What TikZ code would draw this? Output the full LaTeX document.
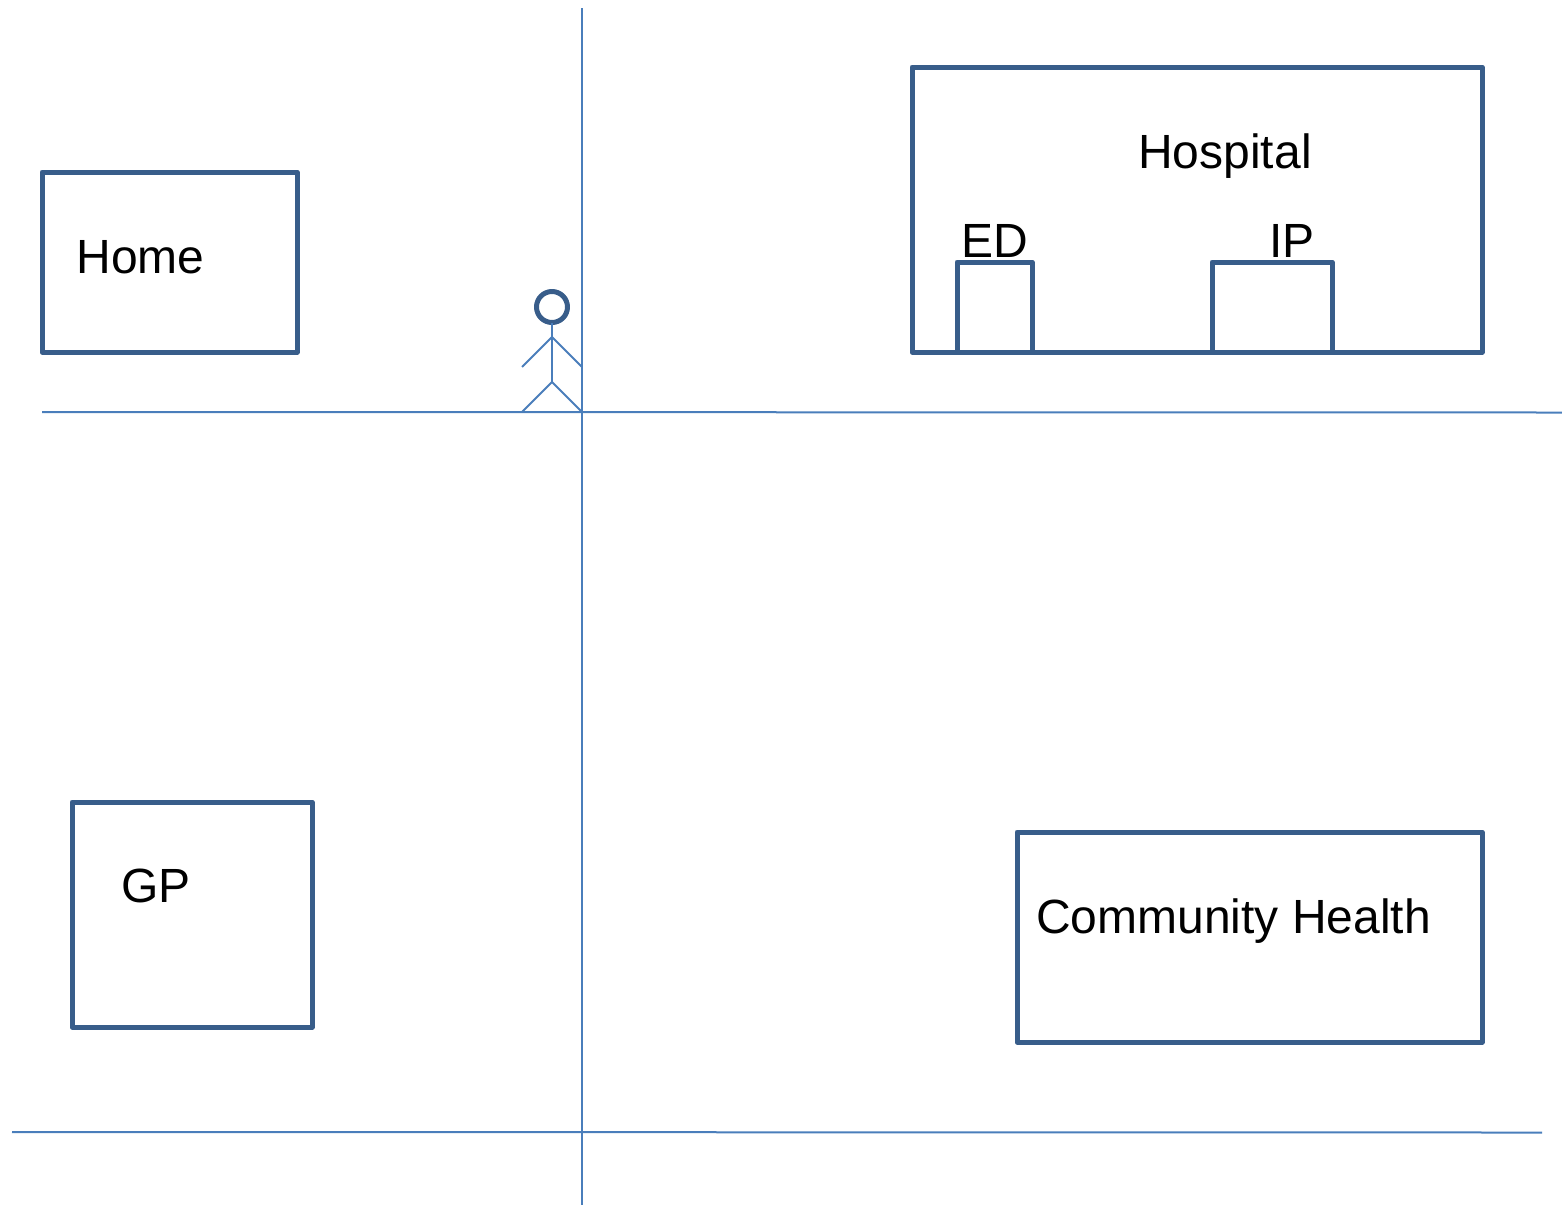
\documentclass[tikz,border=0pt]{standalone}
\usepackage{fontspec}
\setmainfont{Liberation Sans}
\usetikzlibrary{positioning, calc}
\definecolor{boxblue}{HTML}{385D8A}
\definecolor{lineblue}{HTML}{4A7EBB}

\begin{document}
\begin{tikzpicture}[x=1pt, y=-1pt,
        place/.style={draw=boxblue, line width=5pt, line join=round, inner sep=0pt, outer sep=0pt},
        label/.style={anchor=base, inner sep=0pt, font=\fontsize{48}{48}\selectfont},
        thin line/.style={draw=lineblue, line width=2pt}]
    \useasboundingbox (0,0) rectangle (1562,1205);

    \node[place, minimum width=255pt, minimum height=180pt] (home) at (169.5,262) {};
    \node[place, minimum width=570pt, minimum height=285pt] (hospital) at (1197,209.5) {};
    \node[place, minimum width=75pt, minimum height=90pt] (ed) at (994.5,307) {};
    \node[place, minimum width=120pt, minimum height=90pt] (ip) at (1272,307) {};
    \node[place, minimum width=240pt, minimum height=225pt] (gp) at (192,914.5) {};
    \node[place, minimum width=465pt, minimum height=210pt] (community) at (1249.5,937) {};

    \node[label] (homelabel) at (140.5,273) {Home};
    \node[label] (hospitallabel) at (1225,168) {Hospital};
    \node[label] (edlabel) at (995,257) {ED};
    \node[label] (iplabel) at (1292,257) {IP};
    \node[label] (gplabel) at (156,902) {GP};
    \node[label] (communitylabel) at (1233.5,933) {Community Health};

    \coordinate (vtop) at (582,8);
    \coordinate (vbottom) at (582,1205);
    \coordinate (upleft) at (42,412);
    \coordinate (upright) at (1562,412.5);
    \coordinate (lowleft) at (12,1132);
    \coordinate (lowright) at (1542,1132.5);
    \draw[thin line] (vtop) -- (vbottom);
    \draw[thin line] (upleft) -- (upright);
    \draw[thin line] (lowleft) -- (lowright);

    \node[place, circle, minimum size=31pt] (head) at (552,307) {};
    \coordinate (shoulder) at (552,337);
    \coordinate (hip) at (552,382);
    \coordinate (lefthand) at (522,367);
    \coordinate (righthand) at (582,367);
    \coordinate (leftfoot) at (522,412);
    \coordinate (rightfoot) at (582,412);
    \draw[thin line] (head.south) -- (hip);
    \draw[thin line] (lefthand) -- (shoulder) -- (righthand);
    \draw[thin line] (leftfoot) -- (hip) -- (rightfoot);
\end{tikzpicture}
\end{document}
